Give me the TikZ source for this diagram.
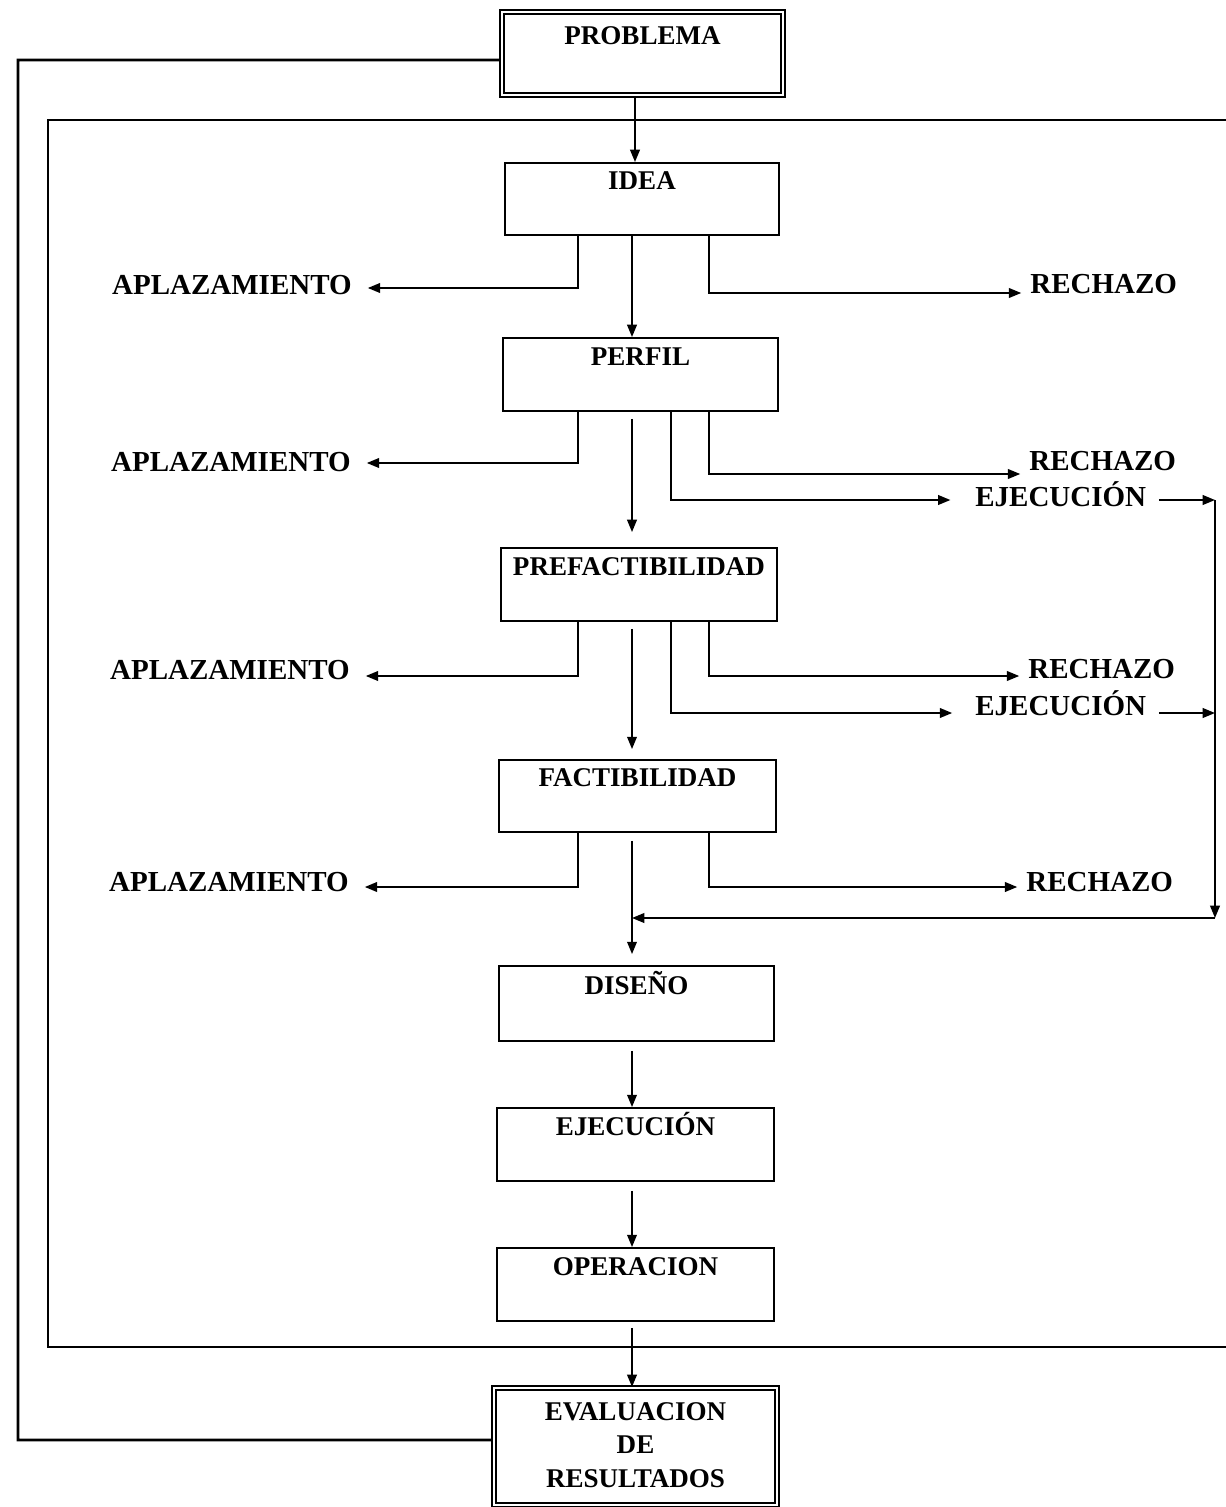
\documentclass[tikz,border=0pt]{standalone}
\usepackage{fontspec}
\setmainfont{Liberation Serif}
\usetikzlibrary{arrows.meta}

\newcommand\stagefont{\fontsize{15.4}{19.6}\selectfont\bfseries}
\newcommand\outfont{\fontsize{16.5}{20}\selectfont\bfseries}

\begin{document}
\begin{tikzpicture}[
  x=0.02cm, y=-0.02cm,
  stage/.style={draw, rectangle, line width=1.1pt, inner sep=0pt},
  endstage/.style={stage, double, line width=1.2pt, double distance=0.8pt},
  stagetext/.style={anchor=north, inner sep=0pt, font=\stagefont, text height=10.2pt, text depth=0pt},
  outtext/.style={inner sep=0pt, font=\outfont, text height=10.9pt, text depth=0pt},
  flow/.style={line width=1pt, -{Triangle[length=7pt,width=5.5pt]}},
  frame/.style={line width=1.6pt, line join=miter},
]
\useasboundingbox (0,0) rectangle (1226,1507);

% stages of the project cycle
\node[endstage, minimum width=5.62cm, minimum height=1.66cm] (prob) at (642.5,53.5) {};
\node[stage, minimum width=5.48cm, minimum height=1.44cm] (idea) at (642,199) {};
\node[stage, minimum width=5.50cm, minimum height=1.46cm] (perfil) at (640.5,374.5) {};
\node[stage, minimum width=5.52cm, minimum height=1.46cm] (prefac) at (639,584.5) {};
\node[stage, minimum width=5.54cm, minimum height=1.44cm] (fact) at (637.5,796) {};
\node[stage, minimum width=5.50cm, minimum height=1.50cm] (diseno) at (636.5,1003.5) {};
\node[stage, minimum width=5.54cm, minimum height=1.46cm] (ejec) at (635.5,1144.5) {};
\node[stage, minimum width=5.54cm, minimum height=1.46cm] (oper) at (635.5,1284.5) {};
\node[endstage, minimum width=5.66cm, minimum height=2.34cm] (eval) at (635.5,1446.5) {};

% stage titles
\node[stagetext] (probt) at ([yshift=-0.30cm]prob.north) {PROBLEMA};
\node[stagetext] (ideat) at ([yshift=-0.18cm]idea.north) {IDEA};
\node[stagetext] (perfilt) at ([yshift=-0.20cm]perfil.north) {PERFIL};
\node[stagetext] (prefact) at ([yshift=-0.20cm]prefac.north) {PREFACTIBILIDAD};
\node[stagetext] (factt) at ([yshift=-0.18cm]fact.north) {FACTIBILIDAD};
\node[stagetext] (disenot) at ([yshift=-0.22cm]diseno.north) {DISEÑO};
\node[stagetext] (eject) at ([yshift=-0.20cm]ejec.north) {EJECUCIÓN};
\node[stagetext] (opert) at ([yshift=-0.20cm]oper.north) {OPERACION};
\node[anchor=north, inner sep=0pt, font=\stagefont, align=center] (evalt)
  at ([yshift=-0.30cm]eval.north) {EVALUACION\\[-0.4pt]DE\\[-0.4pt]RESULTADOS};

% outcome labels
\node[outtext, anchor=east] (apl1) at (352,285) {APLAZAMIENTO};
\node[outtext, anchor=east] (apl2) at (351,462) {APLAZAMIENTO};
\node[outtext, anchor=east] (apl3) at (350,670) {APLAZAMIENTO};
\node[outtext, anchor=east] (apl4) at (349,882) {APLAZAMIENTO};
\node[outtext, anchor=west] (rech1) at (1030,284) {RECHAZO};
\node[outtext, anchor=west] (rech2) at (1029,461) {RECHAZO};
\node[outtext, anchor=west] (rech3) at (1028,669) {RECHAZO};
\node[outtext, anchor=west] (rech4) at (1026,882) {RECHAZO};
\node[outtext, anchor=west] (ej1) at (975,497) {EJECUCIÓN};
\node[outtext, anchor=west] (ej2) at (975,706) {EJECUCIÓN};

% connector columns
\coordinate (cAp) at (578,0);
\coordinate (cMain) at (632,0);
\coordinate (cTop) at (635,0);
\coordinate (cEj) at (671,0);
\coordinate (cRe) at (709,0);
\coordinate (cR) at (1215,0);
\coordinate (join) at (1215,918);

% frame around the cycle, open to the right
\coordinate (ftr) at (1226,120);
\coordinate (ftl) at (48,120);
\coordinate (fbl) at (48,1347);
\coordinate (fbr) at (1226,1347);
\draw[frame] (ftr) -- (ftl) -- (fbl) -- (fbr);

% feedback loop from the evaluation back to the problem
\coordinate (lb) at (18,1440);
\draw[frame] ([yshift=-0.13cm]prob.west) -| (lb) -- ([yshift=0.13cm]eval.west);

% main sequence
\draw[flow] (prob.south -| cTop) -- (idea.north -| cTop);
\draw[flow] (idea.south -| cMain) -- (perfil.north -| cMain);
\draw[flow] ([yshift=-0.14cm]perfil.south -| cMain) -- ([yshift=0.3cm]prefac.north -| cMain);
\draw[flow] ([yshift=-0.14cm]prefac.south -| cMain) -- ([yshift=0.2cm]fact.north -| cMain);
\draw[flow] ([yshift=-0.16cm]fact.south -| cMain) -- ([yshift=0.22cm]diseno.north -| cMain);
\draw[flow] ([yshift=-0.18cm]diseno.south -| cMain) -- (ejec.north -| cMain);
\draw[flow] ([yshift=-0.18cm]ejec.south -| cMain) -- (oper.north -| cMain);
\draw[flow] ([yshift=-0.12cm]oper.south -| cMain) -- (eval.north -| cMain);

% postponement branches
\draw[flow, shorten >=9pt] (idea.south -| cAp) |- ([yshift=-0.06cm]apl1.east);
\draw[flow, shorten >=9pt] (perfil.south -| cAp) |- ([yshift=-0.02cm]apl2.east);
\draw[flow, shorten >=9pt] (prefac.south -| cAp) |- ([yshift=-0.12cm]apl3.east);
\draw[flow, shorten >=9pt] (fact.south -| cAp) |- ([yshift=-0.10cm]apl4.east);

% rejection branches
\draw[flow, shorten >=5pt] (idea.south -| cRe) |- ([yshift=-0.18cm]rech1.west);
\draw[flow, shorten >=5pt] (perfil.south -| cRe) |- ([yshift=-0.26cm]rech2.west);
\draw[flow, shorten >=5pt] (prefac.south -| cRe) |- ([yshift=-0.14cm]rech3.west);
\draw[flow, shorten >=5pt] (fact.south -| cRe) |- ([yshift=-0.10cm]rech4.west);

% early execution branches
\draw[flow, shorten >=14pt] (perfil.south -| cEj) |- ([yshift=-0.06cm]ej1.west);
\draw[flow, shorten >=13pt] (prefac.south -| cEj) |- ([yshift=-0.14cm]ej2.west);
\draw[flow, shorten <=7pt] ([yshift=-0.06cm]ej1.east) -- ([yshift=-0.06cm]ej1.east -| cR);
\draw[flow, shorten <=7pt] ([yshift=-0.14cm]ej2.east) -- ([yshift=-0.14cm]ej2.east -| cR);
\draw[flow] ([yshift=-0.06cm]ej1.east -| cR) -- (join);
\draw[flow] (join) -- (join -| cMain);
\end{tikzpicture}
\end{document}
